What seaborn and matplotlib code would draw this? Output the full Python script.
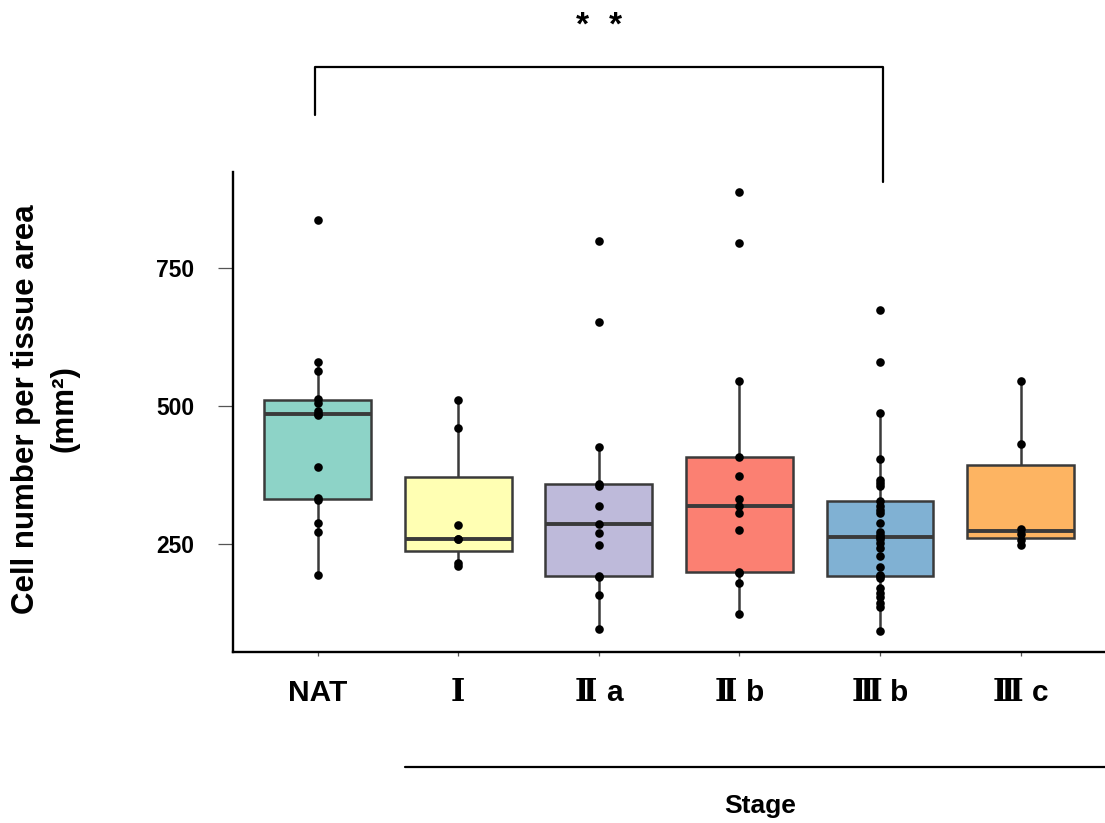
import matplotlib
matplotlib.use("Agg")
import matplotlib.pyplot as plt
from matplotlib.lines import Line2D
from matplotlib import font_manager
from matplotlib.font_manager import FontProperties
from matplotlib.ft2font import FT2Font
from matplotlib.offsetbox import TextArea, HPacker, AnnotationBbox
import pandas as pd
import seaborn as sns

# ---- data -------------------------------------------------------------
stages = ["NAT", "Ⅰ", "Ⅱa", "Ⅱb", "Ⅲb", "Ⅲc"]
nat = [194, 271, 287, 330, 333, 390, 484, 486, 490, 505, 512, 563, 580, 837]
stage_i = [210, 215, 258, 259, 284, 459, 510]
stage_iia = [96, 157, 190, 191, 247, 269, 286, 319, 355, 359, 426, 652, 798]
stage_iib = [123, 178, 197, 198, 274, 306, 318, 331, 373, 407, 545, 796, 887]
stage_iiib = [92, 136, 143, 154, 161, 170, 188, 191, 194, 208, 227, 243, 252,
              258, 262, 266, 272, 287, 306, 312, 318, 328, 354, 360, 366, 403,
              487, 580, 673]
stage_iiic = [248, 257, 268, 277, 431, 545]
yticks = [250, 500, 750]
colors = ["#8DD3C7", "#FFFFB3", "#BEBADA", "#FB8072", "#80B1D3", "#FDB462"]

groups = [nat, stage_i, stage_iia, stage_iib, stage_iiib, stage_iiic]
df = pd.DataFrame({
    "stage": [s for s, g in zip(stages, groups) for _ in g],
    "value": [v for g in groups for v in g],
})

# ---- fonts ------------------------------------------------------------
sns.set_style("white")
available = {f.name for f in font_manager.fontManager.ttflist}
latin = "Liberation Sans" if "Liberation Sans" in available else "DejaVu Sans"


def has_glyph(family, ch):
    try:
        path = font_manager.findfont(FontProperties(family=family, weight="bold"),
                                     fallback_to_default=False)
        return FT2Font(path).get_char_index(ord(ch)) != 0
    except Exception:
        return False


numeral_font = next((f for f in ["Liberation Serif", "DejaVu Serif"]
                     if has_glyph(f, "Ⅲ")), "DejaVu Serif")

plt.rcParams["font.family"] = [latin, "Noto Sans CJK JP", "DejaVu Sans"]
plt.rcParams["text.color"] = "black"
plt.rcParams["ytick.labelcolor"] = "black"

# ---- figure -----------------------------------------------------------
fig = plt.figure(figsize=(11.05, 8.23), dpi=100)
ax = fig.add_axes([0.211, 0.208, 0.789, 0.583])

edge = "#3a3a3a"
sns.boxplot(data=df, x="stage", y="value", hue="stage", order=stages,
            hue_order=stages, palette=colors, legend=False, width=0.76,
            linewidth=1.8, linecolor=edge, showfliers=False, showcaps=False,
            saturation=1, medianprops={"linewidth": 2.8, "color": edge},
            ax=ax)
sns.stripplot(data=df, x="stage", y="value", order=stages, jitter=False,
              color="black", size=6.2, ax=ax, zorder=5)

ax.set_xlim(-0.6, 5.6)
ax.set_ylim(54, 924)
ax.set_yticks(yticks)
ax.set_xlabel("")
ax.set_ylabel("")

for side in ("top", "right"):
    ax.spines[side].set_visible(False)
for side in ("left", "bottom"):
    ax.spines[side].set_color("black")
    ax.spines[side].set_linewidth(1.7)

ax.tick_params(axis="y", length=11, width=0.9, color="#555555", pad=17,
               labelsize=16.5, left=True)
ax.tick_params(axis="x", length=3, width=0.9, color="#555555", bottom=True)
for lab in ax.get_yticklabels():
    lab.set_fontweight("bold")

# category labels: serif Roman numeral followed by a sans-serif letter
ax.set_xticks(range(len(stages)))
ax.set_xticklabels([""] * len(stages))
sans_props = dict(family=latin, weight="bold", size=21.5, color="black")
num_props = dict(family=numeral_font, weight="bold", size=22, color="black")
for i, name in enumerate(stages):
    if name[0] in "ⅠⅡⅢ":
        parts = [TextArea(name[0], textprops=num_props)]
        if name[1:]:
            parts.append(TextArea(name[1:], textprops=sans_props))
        box = HPacker(children=parts, align="baseline", pad=0, sep=6)
    else:
        box = TextArea(name, textprops=sans_props)
    ab = AnnotationBbox(box, (i, 0), xycoords=("data", "axes fraction"),
                        xybox=(0, -29.5), boxcoords="offset points",
                        frameon=False, box_alignment=(0.5, 0.5),
                        annotation_clip=False)
    ax.add_artist(ab)

# y-axis title
fig.text(0.041, 0.503, "Cell number per tissue area\n(mm²)", rotation=90,
         ha="center", va="center", fontsize=22.5, fontweight="bold",
         linespacing=1.35, multialignment="center")

# significance bracket between NAT and Ⅲb
ax.plot([-0.015, -0.015, 4.02, 4.02], [1027, 1114, 1114, 906], color="black",
        lw=1.6, clip_on=False)
for dx in (-0.117, 0.117):
    ax.text(2 + dx, 1160, "*", ha="center", va="bottom", fontsize=24,
            fontweight="bold", clip_on=False)

# grouping line for the tumour stages
fig.add_artist(Line2D([405 / 1105, 1.0], [1 - 767 / 823, 1 - 767 / 823],
                      color="black", lw=1.6))
fig.text(760 / 1105, 1 - 806 / 823, "Stage", ha="center", va="center",
         fontsize=19, fontweight="bold")

fig.savefig("out.png", dpi=100)
